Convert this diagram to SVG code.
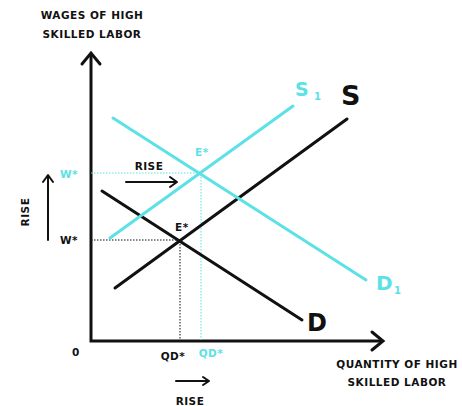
<svg xmlns="http://www.w3.org/2000/svg" width="462" height="406" viewBox="0 0 462 406">
<style>
text{font-family:"DejaVu Sans","Liberation Sans",sans-serif;font-weight:bold;fill:#111}
.c{fill:#5ce1e6}
.bl{stroke:#111;stroke-width:3;fill:none;stroke-linecap:round}
.cl{stroke:#5ce1e6;stroke-width:3;fill:none;stroke-linecap:round}
.dk{stroke:#111;stroke-width:1;stroke-dasharray:1.5 1.5;fill:none}
.dc{stroke:#5ce1e6;stroke-width:1;stroke-dasharray:1.5 1.5;fill:none}
.ar{stroke:#111;stroke-width:2;fill:none;stroke-linecap:round;stroke-linejoin:round}
.sm{font-size:10.5px;letter-spacing:0.5px}
</style>
<rect width="462" height="406" fill="#fff"/>
<g id="axes">
<path class="bl" d="M91,54 V341 H382"/>
<path class="bl" d="M82,64 L91,53 L100,64"/>
<path class="bl" d="M372,332 L383,341 L372,350"/>
</g>
<g id="connectors">
<path class="dk" d="M91,240 H180 V340"/>
<path class="dc" d="M91,173 H201 V340"/>
<path class="ar" d="M126,182 H176 M170,177 L177,182 L170,187"/>
<path class="ar" d="M48,240 V176 M43,182 L48,175 L53,182"/>
<path class="ar" d="M176,381 H209 M203,377 L209,381 L203,385"/>
</g>
<g id="S"><path class="bl" d="M115,288 L347,119"/><text x="341" y="105" font-size="27">S</text></g>
<g id="D"><path class="bl" d="M102,191 L302,320"/><text x="307" y="331" font-size="24">D</text></g>
<g id="S1"><path class="cl" d="M110,238 L293,106"/><text class="c" x="295" y="96" font-size="19">S</text><text class="c" x="314" y="100" font-size="10">1</text></g>
<g id="D1"><path class="cl" d="M113,118 L366,280"/><text class="c" x="376" y="290" font-size="20">D</text><text class="c" x="394" y="294" font-size="10">1</text></g>
<g id="labels">
<text class="sm" x="92" y="19" text-anchor="middle">WAGES OF HIGH</text>
<text class="sm" x="92" y="38" text-anchor="middle">SKILLED LABOR</text>
<text class="sm c" x="60" y="178">W*</text>
<text class="sm" x="60" y="244">W*</text>
<text class="sm" x="29" y="212" text-anchor="middle" transform="rotate(-90 29 212)">RISE</text>
<text class="sm" x="149" y="170" text-anchor="middle">RISE</text>
<text class="sm c" x="195" y="156">E*</text>
<text class="sm" x="175" y="231">E*</text>
<text class="sm" x="76" y="356" text-anchor="middle">0</text>
<text class="sm" x="173" y="360" text-anchor="middle">QD*</text>
<text class="sm c" x="211" y="357" text-anchor="middle">QD*</text>
<text class="sm" x="397" y="368" text-anchor="middle">QUANTITY OF HIGH</text>
<text class="sm" x="397" y="386" text-anchor="middle">SKILLED LABOR</text>
<text class="sm" x="190" y="405" text-anchor="middle">RISE</text>
</g>
</svg>
